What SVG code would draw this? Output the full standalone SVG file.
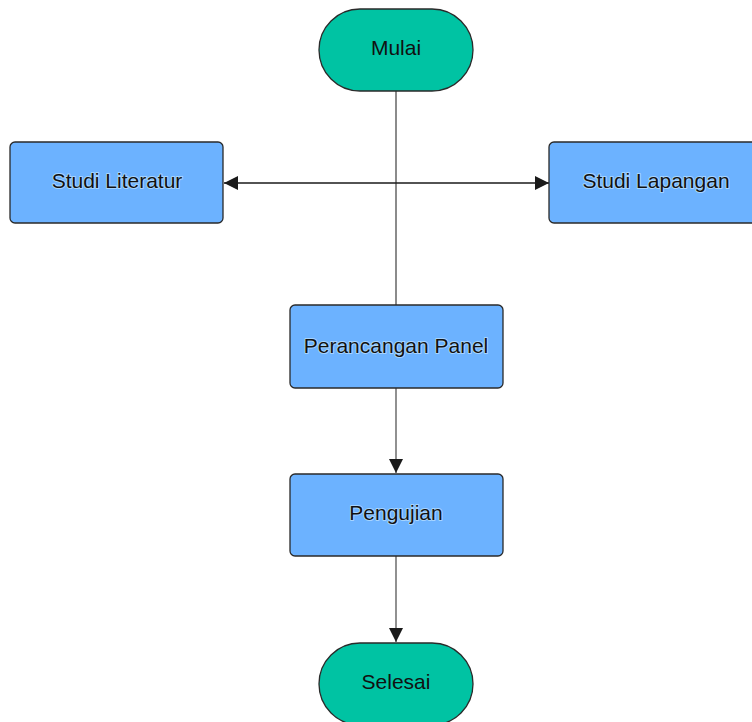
<svg xmlns="http://www.w3.org/2000/svg" width="752" height="722" viewBox="0 0 752 722">
<defs>
<marker id="ah" viewBox="0 0 14 14" refX="14" refY="7" markerWidth="14" markerHeight="14" markerUnits="userSpaceOnUse" orient="auto">
<path d="M0,0 L14,7 L0,14 Z" fill="#1a1a1a"/>
</marker>
<style>
.term{fill:#00c3a3;stroke:#2a2a2a;stroke-width:1.3}
.proc{fill:#6cb2ff;stroke:#2a2a2a;stroke-width:1.3}
.lbl{font-family:"Liberation Sans",Arial,sans-serif;font-size:21px;fill:#111;text-anchor:middle;stroke:#a6d4ff;stroke-width:2;paint-order:stroke;stroke-linejoin:round}
.lblt{font-family:"Liberation Sans",Arial,sans-serif;font-size:21px;fill:#111;text-anchor:middle}
.conn{fill:none;stroke:#1a1a1a;stroke-width:1.3}
</style>
</defs>
<rect width="752" height="722" fill="#ffffff"/>
<g id="connectors">
<line class="conn" x1="396" y1="91" x2="396" y2="305" style="stroke:#6e6e6e;stroke-width:1.6"/>
<line class="conn" x1="396" y1="183" x2="224" y2="183" marker-end="url(#ah)"/>
<line class="conn" x1="396" y1="183" x2="549" y2="183" marker-end="url(#ah)"/>
<line class="conn" x1="396" y1="388" x2="396" y2="473" marker-end="url(#ah)" style="stroke:#555"/>
<line class="conn" x1="396" y1="556" x2="396" y2="642" marker-end="url(#ah)" style="stroke:#555"/>
</g>
<g id="mulai">
<rect class="term" x="319" y="9" width="154" height="82" rx="41"/>
<text class="lblt" x="396" y="55">Mulai</text>
</g>
<g id="studi-literatur">
<rect class="proc" x="10" y="142" width="213" height="81" rx="5"/>
<text class="lbl" x="117" y="188">Studi Literatur</text>
</g>
<g id="studi-lapangan">
<rect class="proc" x="549" y="142" width="213" height="81" rx="5"/>
<text class="lbl" x="656" y="188">Studi Lapangan</text>
</g>
<g id="perancangan-panel">
<rect class="proc" x="290" y="305" width="213" height="83" rx="5"/>
<text class="lbl" x="396" y="353">Perancangan Panel</text>
</g>
<g id="pengujian">
<rect class="proc" x="290" y="474" width="213" height="82" rx="5"/>
<text class="lbl" x="396" y="520">Pengujian</text>
</g>
<g id="selesai">
<rect class="term" x="319" y="643" width="154" height="82" rx="41"/>
<text class="lblt" x="396" y="689">Selesai</text>
</g>
</svg>
